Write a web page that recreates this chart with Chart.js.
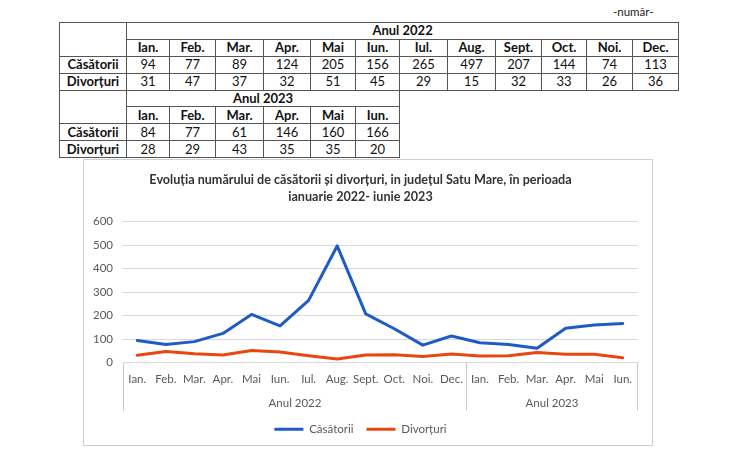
<!DOCTYPE html>
<html>
<head>
<meta charset="utf-8">
<script src="https://cdn.jsdelivr.net/npm/chart.js@4.4.0/dist/chart.umd.min.js"></script>
<style>
  body{margin:0;background:#fff;width:735px;height:459px;overflow:hidden;position:relative;font-family:Lato,"Noto Sans",sans-serif;}
  #unit{position:absolute;left:613px;top:5px;font-size:11.5px;color:#222;}
  #tbl{position:absolute;left:59px;top:22px;border-collapse:collapse;table-layout:fixed;width:619px;font-size:13px;color:#111;}
  #tbl tr{height:16.9px;}
  #tbl td{border:1px solid #555;padding:0;text-align:center;line-height:13px;white-space:nowrap;overflow:hidden;}
  #tbl td.e{border:none;}
  #tbl td.b{font-weight:bold;}
  #box{position:absolute;left:83px;top:159px;width:568px;height:285px;border:1px solid #d0d0d0;background:#fff;}
  #box canvas{display:block;}
</style>
</head>
<body>
<div id="unit">-număr-</div>
<table id="tbl"></table>
<div id="box"><canvas id="c" width="568" height="285"></canvas></div>
<script>
// ---- data ----
const months2022 = ['Ian.','Feb.','Mar.','Apr.','Mai','Iun.','Iul.','Aug.','Sept.','Oct.','Noi.','Dec.'];
const casatorii2022 = [94,77,89,124,205,156,265,497,207,144,74,113];
const divorturi2022 = [31,47,37,32,51,45,29,15,32,33,26,36];
const months2023 = ['Ian.','Feb.','Mar.','Apr.','Mai','Iun.'];
const casatorii2023 = [84,77,61,146,160,166];
const divorturi2023 = [28,29,43,35,35,20];
const yearLabels = ['Anul 2022','Anul 2023'];
const seriesNames = ['Căsătorii','Divorțuri'];
const yTicks = [0,100,200,300,400,500,600];
const titleLines = ['Evoluția numărului de căsătorii și divorțuri, in județul Satu Mare, în perioada','ianuarie 2022- iunie 2023'];

// ---- table ----
const colW = [67,43,46,48,47,45,44,48,48,46,45,46,46];
(function buildTable(){
  const t = document.getElementById('tbl');
  let h = '<colgroup>' + colW.map(w=>'<col style="width:'+w+'px">').join('') + '</colgroup>';
  const total = months2022.length;
  function block(year, months, cas, div){
    const rest = total - months.length;
    const e = rest ? '<td class="e" colspan="'+rest+'"></td>' : '';
    let s = '<tr><td rowspan="2"></td><td class="b" colspan="'+months.length+'">'+year+'</td>'+e+'</tr>';
    s += '<tr>' + months.map(m=>'<td class="b">'+m+'</td>').join('') + e + '</tr>';
    s += '<tr><td class="b">'+seriesNames[0]+'</td>' + cas.map(v=>'<td>'+v+'</td>').join('') + e + '</tr>';
    s += '<tr><td class="b">'+seriesNames[1]+'</td>' + div.map(v=>'<td>'+v+'</td>').join('') + e + '</tr>';
    return s;
  }
  h += block(yearLabels[0], months2022, casatorii2022, divorturi2022);
  h += block(yearLabels[1], months2023, casatorii2023, divorturi2023);
  t.innerHTML = h;
})();

// ---- chart ----
const categories = months2022.concat(months2023);
const groupSizes = [months2022.length, months2023.length];
const blue = '#1f5bc6', orange = '#e8470f';

const groupPlugin = {
  id: 'groupAxis',
  afterDraw(chart){
    const x = chart.scales.x, ctx = chart.ctx, area = chart.chartArea;
    const step = x.getPixelForValue(1) - x.getPixelForValue(0);
    ctx.save();
    ctx.strokeStyle = '#c8c8c8';
    ctx.lineWidth = 1;
    const y0 = area.bottom, y1 = area.bottom + 48;
    let start = 0;
    const edge = i => Math.round(x.getPixelForValue(i) - step/2) + 0.5;
    ctx.beginPath();
    ctx.moveTo(edge(0), y0); ctx.lineTo(edge(0), y1);
    ctx.stroke();
    ctx.fillStyle = '#595959';
    ctx.font = '11.5px Lato';
    ctx.textAlign = 'center';
    ctx.textBaseline = 'middle';
    groupSizes.forEach((n, gi) => {
      const l = edge(start), r = edge(start + n);
      ctx.beginPath(); ctx.moveTo(r, y0); ctx.lineTo(r, y1); ctx.stroke();
      ctx.fillText(yearLabels[gi], (l + r)/2, area.bottom + 41);
      start += n;
    });
    ctx.restore();
  }
};

new Chart(document.getElementById('c'), {
  type: 'line',
  data: {
    labels: categories,
    datasets: [
      {label: seriesNames[0], data: casatorii2022.concat(casatorii2023), borderColor: blue, backgroundColor: blue,
       borderWidth: 3, pointRadius: 0, tension: 0, borderJoinStyle: 'round', borderCapStyle: 'round'},
      {label: seriesNames[1], data: divorturi2022.concat(divorturi2023), borderColor: orange, backgroundColor: orange,
       borderWidth: 3, pointRadius: 0, tension: 0, borderJoinStyle: 'round', borderCapStyle: 'round'}
    ]
  },
  options: {
    responsive: false,
    animation: false,
    layout: {padding: {left: 0, right: 15, top: 11, bottom: 0}},
    plugins: {
      title: {display: true, text: titleLines, color: '#333333',
        font: {family: 'Lato', size: 12.6, weight: 'bold', lineHeight: 1.36},
        padding: {top: 0, bottom: 16.5}},
      legend: {position: 'bottom',
        labels: {boxWidth: 29, boxHeight: 3, padding: 13, color: '#595959', font: {family: 'Lato', size: 11.5},
          generateLabels(chart){
            const items = Chart.defaults.plugins.legend.labels.generateLabels(chart);
            items.forEach(i => { i.lineWidth = 0; i.strokeStyle = 'rgba(0,0,0,0)'; });
            return items;
          }}},
      tooltip: {enabled: false}
    },
    scales: {
      x: {
        offset: true,
        grid: {display: false, drawTicks: false, offset: true},
        border: {display: false},
        ticks: {color: '#595959', font: {family: 'Lato', size: 11.5}, padding: 10, maxRotation: 0, autoSkip: false},
        afterFit(s){ s.height = 48; }
      },
      y: {
        min: 0, max: 600,
        afterBuildTicks(s){ s.ticks = yTicks.map(v => ({value: v})); },
        grid: {color: '#d9d9d9', drawTicks: false, lineWidth: 1},
        border: {display: false},
        ticks: {color: '#595959', font: {family: 'Lato', size: 11.5}, padding: 10},
        afterFit(s){ s.width = 39; }
      }
    }
  },
  plugins: [groupPlugin]
});
</script>
</body>
</html>
